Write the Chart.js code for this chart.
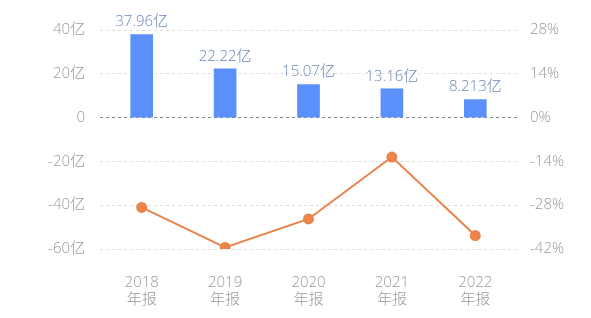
<!DOCTYPE html>
<html>
<head>
<meta charset="utf-8">
<script src="https://cdn.jsdelivr.net/npm/chart.js@4/dist/chart.umd.min.js"></script>
<style>
  html, body { margin: 0; padding: 0; background: #fff; }
  #wrap { width: 591px; height: 318px; }
</style>
</head>
<body>
<div id="wrap"><canvas id="chart" width="591" height="318"></canvas></div>
<script>
const years = ["2018", "2019", "2020", "2021", "2022"];
const revenue = [37.96, 22.22, 15.07, 13.16, 8.213]; // 亿
const revenueLabels = ["37.96亿", "22.22亿", "15.07亿", "13.16亿", "8.213亿"];
const growth = [-28.7, -41.5, -32.4, -12.6, -37.7]; // %

const font = "'Open Sans', 'Noto Sans CJK SC', sans-serif";

// draw value text above each bar
const barLabels = {
  id: "barLabels",
  afterDatasetsDraw(chart) {
    const ctx = chart.ctx;
    const meta = chart.getDatasetMeta(1);
    ctx.save();
    ctx.font = "300 15px " + font;
    ctx.fillStyle = "#6a89b8";
    ctx.textAlign = "center";
    ctx.textBaseline = "bottom";
    meta.data.forEach((bar, i) => {
      ctx.fillText(revenueLabels[i], bar.x, bar.y - 5);
    });
    ctx.restore();
  },
};

const ctx = document.getElementById("chart").getContext("2d");
const chart = new Chart(ctx, {
  type: "bar",
  data: {
    labels: years.map((y) => [y, "年报"]),
    datasets: [
      {
        type: "line",
        data: growth,
        yAxisID: "y1",
        borderColor: "#e9834c",
        backgroundColor: "#ef8548",
        borderWidth: 2,
        pointRadius: 4.5,
        pointHoverRadius: 4.5,
        tension: 0,
        order: 0,
      },
      {
        data: revenue,
        yAxisID: "y",
        backgroundColor: "#5b8ff9",
        barThickness: 22,
        order: 1,
      },
    ],
  },
  options: {
    responsive: false,
    animation: false,
    layout: { padding: { top: 30, left: 0, right: 0, bottom: 0 } },
    plugins: { legend: { display: false }, tooltip: { enabled: false } },
    scales: {
      x: {
        grid: { display: false, drawTicks: false },
        border: { display: false },
        ticks: {
          color: "#999",
          font: { family: font, size: 15, weight: 300, lineHeight: 1.15 },
          padding: 25,
        },
        afterFit(s) { s.height = 69; },
      },
      y: {
        position: "left",
        min: -60,
        max: 40,
        border: { display: false, dash: [3, 3] },
        grid: {
          drawTicks: false,
          color: (c) => (c.tick && c.tick.value === 0 ? "#888" : "#ddd"),
          lineWidth: 1,
        },
        ticks: {
          stepSize: 20,
          color: "#999",
          font: { family: font, size: 15, weight: 300 },
          padding: 15,
          callback: (v) => (v === 0 ? "0" : v + "亿"),
        },
        afterFit(s) { s.width = 100; },
      },
      y1: {
        position: "right",
        min: -42,
        max: 28,
        border: { display: false },
        grid: { display: false, drawTicks: false },
        ticks: {
          stepSize: 14,
          color: "#999",
          font: { family: font, size: 15, weight: 300 },
          padding: 13,
          callback: (v) => v + "%",
        },
        afterFit(s) { s.width = 74; },
      },
    },
  },
  plugins: [barLabels],
});
</script>
</body>
</html>
